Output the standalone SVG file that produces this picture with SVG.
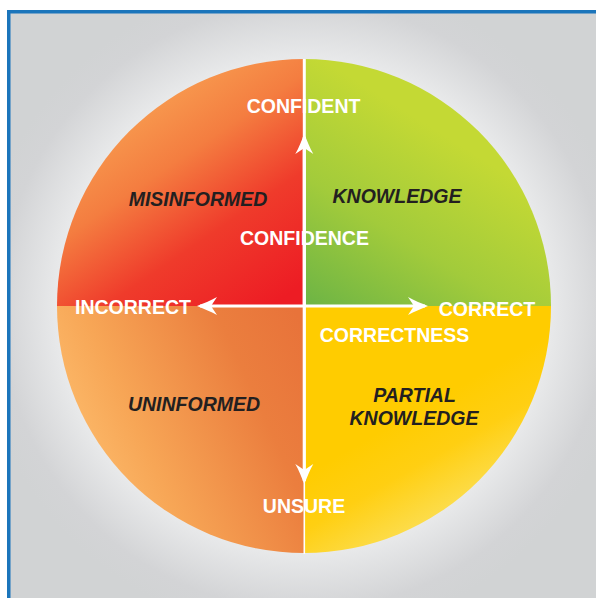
<svg xmlns="http://www.w3.org/2000/svg" width="596" height="598" viewBox="0 0 596 598">
  <defs>
    <radialGradient id="bg" gradientUnits="userSpaceOnUse" cx="304" cy="306" r="330">
      <stop offset="0" stop-color="#f4f4f5"/>
      <stop offset="0.75" stop-color="#e8e9ea"/>
      <stop offset="0.92" stop-color="#d3d4d6"/>
      <stop offset="1" stop-color="#d1d3d4"/>
    </radialGradient>
    <linearGradient id="gRed" gradientUnits="userSpaceOnUse" x1="130" y1="80" x2="280" y2="300">
      <stop offset="0" stop-color="#f9a655"/>
      <stop offset="0.35" stop-color="#f47d40"/>
      <stop offset="0.65" stop-color="#ef3b2b"/>
      <stop offset="1" stop-color="#ed1c24"/>
    </linearGradient>
    <linearGradient id="gGreen" gradientUnits="userSpaceOnUse" x1="304" y1="306" x2="420" y2="120">
      <stop offset="0" stop-color="#6cb445"/>
      <stop offset="0.5" stop-color="#a2cb3b"/>
      <stop offset="1" stop-color="#c4d934"/>
    </linearGradient>
    <linearGradient id="gOrange" gradientUnits="userSpaceOnUse" x1="300" y1="320" x2="80" y2="420">
      <stop offset="0" stop-color="#e8733a"/>
      <stop offset="0.3" stop-color="#eb7e3e"/>
      <stop offset="0.8" stop-color="#f7a656"/>
      <stop offset="1" stop-color="#fbb565"/>
    </linearGradient>
    <linearGradient id="gYellow" gradientUnits="userSpaceOnUse" x1="400" y1="420" x2="480" y2="560">
      <stop offset="0" stop-color="#ffcc00"/>
      <stop offset="0.3" stop-color="#ffcf12"/>
      <stop offset="1" stop-color="#f9ec8c"/>
    </linearGradient>
    <marker id="head" markerUnits="userSpaceOnUse" markerWidth="24" markerHeight="22" viewBox="0 -11 24 22" refX="17" refY="0" orient="auto-start-reverse">
      <path d="M20,0 C14,-2.5 6,-5.5 0,-9 L6,0 L0,9 C6,5.5 14,2.5 20,0 Z" fill="#ffffff"/>
    </marker>
    <style>
      .q { stroke: none; }
      .w { font-family: "Liberation Sans", Arial, sans-serif; font-weight: bold; font-size: 19.5px; fill: #ffffff; text-anchor: middle; }
      .d { font-family: "Liberation Sans", Arial, sans-serif; font-weight: bold; font-style: italic; font-size: 19.5px; fill: #231f20; text-anchor: middle; }
      .div { stroke: #ffffff; fill: none; }
      .arrow { stroke: #ffffff; stroke-width: 3.2; fill: none; marker-start: url(#head); marker-end: url(#head); }
    </style>
  </defs>

  <rect id="frame" x="8.75" y="11.75" width="600" height="600" fill="url(#bg)" stroke="#1b75bb" stroke-width="3.5"/>

  <g id="misinformed">
    <path class="q" d="M304,306 L57,306 A247,247 0 0 1 304,59 Z" fill="url(#gRed)"/>
    <text class="d" x="198" y="205.5">MISINFORMED</text>
  </g>
  <g id="knowledge">
    <path class="q" d="M304,306 L304,59 A247,247 0 0 1 551,306 Z" fill="url(#gGreen)"/>
    <text class="d" x="397" y="203">KNOWLEDGE</text>
  </g>
  <g id="partial-knowledge">
    <path class="q" d="M304,306 L551,306 A247,247 0 0 1 304,553 Z" fill="url(#gYellow)"/>
    <text class="d" x="414.5" y="401.5">PARTIAL</text>
    <text class="d" x="414" y="424.5">KNOWLEDGE</text>
  </g>
  <g id="uninformed">
    <path class="q" d="M304,306 L304,553 A247,247 0 0 1 57,306 Z" fill="url(#gOrange)"/>
    <text class="d" x="194" y="410.5">UNINFORMED</text>
  </g>

  <g id="connectors">
    <line class="div" x1="304.3" y1="59" x2="304.3" y2="306" stroke-width="3"/>
    <line class="div" x1="304.3" y1="306" x2="304.3" y2="554" stroke-width="1.6"/>
    <line class="arrow" x1="304.3" y1="137" x2="304.3" y2="481"/>
    <line class="arrow" x1="200" y1="306" x2="425" y2="306"/>
  </g>

  <g id="axis-labels">
    <text class="w" x="303.5" y="113">CONFIDENT</text>
    <text class="w" x="304.5" y="245">CONFIDENCE</text>
    <text class="w" x="133" y="313.5">INCORRECT</text>
    <text class="w" x="487" y="315.5">CORRECT</text>
    <text class="w" x="394.5" y="342">CORRECTNESS</text>
    <text class="w" x="304" y="513">UNSURE</text>
  </g>
</svg>
